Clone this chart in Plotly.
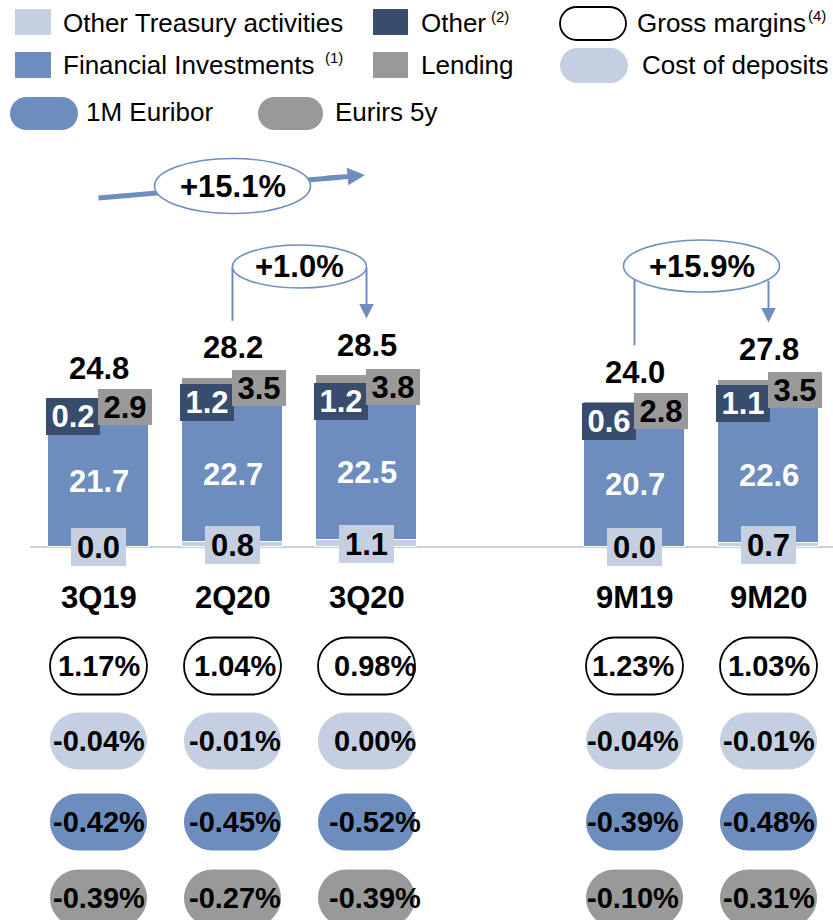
import numpy as np
import plotly.graph_objects as go

# ---------------- data ----------------
categories = ["3Q19", "2Q20", "3Q20", "9M19", "9M20"]
other_treasury = [0.0, 0.8, 1.1, 0.0, 0.7]
financial_investments = [21.7, 22.7, 22.5, 20.7, 22.6]
other = [0.2, 1.2, 1.2, 0.6, 1.1]
lending = [2.9, 3.5, 3.8, 2.8, 3.5]
totals = [24.8, 28.2, 28.5, 24.0, 27.8]

gross_margins = [1.17, 1.04, 0.98, 1.23, 1.03]
cost_of_deposits = [-0.04, -0.01, 0.00, -0.04, -0.01]
euribor_1m = [-0.42, -0.45, -0.52, -0.39, -0.48]
eurirs_5y = [-0.39, -0.27, -0.39, -0.10, -0.31]

growth_values = [15.1, 1.0, 15.9]

# ---------------- layout helpers ----------------
W, H = 833, 920
BASE_PX, PPU = 547.0, 6.0          # baseline pixel row, pixels per unit
X0_PX, STEP_PX = 98.5, 134.0       # first bar centre, bar spacing
slots = [0, 1, 2, 4, 5]            # gap between quarterly and 9M groups
BAR_W = 0.754
PILL_TEXT_SHIFT = [0, 2, 8, -2, 0]


def yv(py):
    return (BASE_PX - py) / PPU


def xv(px):
    return (px - X0_PX) / STEP_PX


def xpx(x):
    return X0_PX + x * STEP_PX


C_LIGHT = "#C5CFE2"
C_BLUE = "#6D8DBE"
C_NAVY = "#384D6D"
C_GRAY = "#999999"
C_ARROW = "#6D8EBF"
FONT = "Liberation Sans, Arial, sans-serif"

fig = go.Figure()
series = [
    ("Other Treasury activities", other_treasury, C_LIGHT),
    ("Financial Investments", financial_investments, C_BLUE),
    ("Other", other, C_NAVY),
    ("Lending", lending, C_GRAY),
]
for name, vals, col in series:
    fig.add_trace(go.Bar(
        x=slots, y=vals, name=name, width=BAR_W,
        marker=dict(color=col, line=dict(color="white", width=1)),
        hoverinfo="skip", showlegend=False))

ot = np.array(other_treasury)
fi = np.array(financial_investments)
oth = np.array(other)
le = np.array(lending)
c1 = ot
c2 = c1 + fi
c3 = c2 + oth
top = c3 + le

ann = []
shapes = []


def label(x, y, text, color, bg=None, w=None, h=None, xshift=0, yshift=0,
          size=31, bold=True, xanchor="center", yanchor="middle"):
    d = dict(x=x, y=y, xref="x", yref="y",
             text=f"<b>{text}</b>" if bold else text, showarrow=False,
             font=dict(family=FONT, size=size, color=color),
             xanchor=xanchor, yanchor=yanchor, xshift=xshift, yshift=yshift,
             borderpad=0, borderwidth=0)
    if bg:
        d["bgcolor"] = bg
    if w:
        d["width"] = w
    if h:
        d["height"] = h
    ann.append(d)


# baseline
shapes.append(dict(type="line", xref="x", yref="y", x0=xv(30), x1=xv(W), y0=0, y1=0,
                   line=dict(color=C_LIGHT, width=2), layer="below"))

# bar value labels
for i, s in enumerate(slots):
    label(s, c1[i] / 2, f"{other_treasury[i]:.1f}", "black", bg=C_LIGHT, w=55, h=38)
    label(s, c1[i] + fi[i] / 2, f"{financial_investments[i]:.1f}", "white")
    label(s, c2[i] + oth[i] / 2, f"{other[i]:.1f}", "white", bg=C_NAVY, w=54, h=37, xshift=-26)
    label(s, c3[i] + le[i] / 2, f"{lending[i]:.1f}", "black", bg=C_GRAY, w=54, h=36, xshift=26)
    label(s, top[i], f"{totals[i]:.1f}", "black", yshift=30)
    label(s, yv(597), categories[i], "black")


# pills
def pill_path(w, h):
    r = h / 2.0
    a = w / 2.0 - r
    k = 0.5523 * r
    hw = w / 2.0
    return (f"M{-a},{-r} L{a},{-r} C{a + k},{-r} {hw},{-k} {hw},0 "
            f"C{hw},{k} {a + k},{r} {a},{r} L{-a},{r} "
            f"C{-a - k},{r} {-hw},{k} {-hw},0 C{-hw},{-k} {-a - k},{-r} {-a},{-r} Z")


def pill(x, y, w, h, fill, line_color=None, line_w=0):
    shapes.append(dict(type="path", xref="x", yref="y", xsizemode="pixel", ysizemode="pixel",
                       xanchor=x, yanchor=y, path=pill_path(w, h), fillcolor=fill,
                       line=dict(color=line_color or fill, width=line_w), layer="above"))


rows = [
    (gross_margins, "white", "black", 1.8),
    (cost_of_deposits, C_LIGHT, None, 0),
    (euribor_1m, C_BLUE, None, 0),
    (eurirs_5y, C_GRAY, None, 0),
]
ROW_PX = [666, 741, 822, 898]
for (vals, fill, lc, lw), rpx in zip(rows, ROW_PX):
    for i, s in enumerate(slots):
        pill(s, yv(rpx), 97, 57, fill, lc, lw)
        label(s, yv(rpx), f"{vals[i]:.2f}%", "black", size=29, xshift=PILL_TEXT_SHIFT[i])


# legend
def rect(px0, py0, px1, py1, fill):
    shapes.append(dict(type="rect", xref="x", yref="y", x0=xv(px0), x1=xv(px1),
                       y0=yv(py1), y1=yv(py0), fillcolor=fill, line=dict(width=0), layer="above"))


rect(15, 9, 51, 35, C_LIGHT)
rect(373, 9, 408, 35, C_NAVY)
rect(15, 52, 51, 78, C_BLUE)
rect(373, 52, 408, 78, C_GRAY)
pill(xv(593), yv(23.5), 66, 33, "white", "black", 1.8)
pill(xv(594), yv(65.5), 68, 35, C_LIGHT)
pill(xv(44), yv(113.5), 68, 33, C_BLUE)
pill(xv(290.5), yv(113.5), 65, 33, C_GRAY)

legend_texts = [
    ("Other Treasury activities", 63, 23),
    ("Other", 421, 23),
    ("Gross margins", 637, 23),
    ("Financial Investments", 63, 65),
    ("Lending", 421, 65),
    ("Cost of deposits", 642, 65),
    ("1M Euribor", 86, 112),
    ("Eurirs 5y", 335, 112),
]
for t, px, py in legend_texts:
    label(xv(px), yv(py), t, "black", size=26, bold=False, xanchor="left")
for t, px, py in [("(1)", 325, 57), ("(2)", 491, 16), ("(4)", 808, 15)]:
    label(xv(px), yv(py), t, "black", size=15, bold=False, xanchor="left")


# growth annotations
def ellipse(cx, cpy, rx, ry, text):
    shapes.append(dict(type="circle", xref="x", yref="y", xsizemode="pixel", ysizemode="pixel",
                       xanchor=cx, yanchor=yv(cpy), x0=-rx, x1=rx, y0=-ry, y1=ry,
                       fillcolor="white", line=dict(color=C_ARROW, width=1.6), layer="above"))
    label(cx, yv(cpy), text, "black")


def arrow(x_tail, y_tail, x_tip, y_tip, width, size):
    ann.append(dict(x=x_tip, y=y_tip, ax=x_tail, ay=y_tail, xref="x", yref="y",
                    axref="x", ayref="y", text="", showarrow=True, arrowhead=2,
                    arrowwidth=width, arrowsize=size, arrowcolor=C_ARROW, standoff=0))


def vline(x, y0, y1):
    shapes.append(dict(type="line", xref="x", yref="y", x0=x, x1=x, y0=y0, y1=y1,
                       line=dict(color=C_ARROW, width=2), layer="above"))


GAP = 57 / PPU

# +15.1% : horizontal arrow 3Q19 -> 3Q20
sx, ex = slots[0], slots[2]
sy_px, ey_px = 198, 175
tip_px = xpx(ex) - 1.5


def along(px):
    return sy_px + (ey_px - sy_px) * (px - xpx(sx)) / (tip_px - xpx(sx))


shapes.append(dict(type="line", xref="x", yref="y", x0=sx, y0=yv(sy_px),
                   x1=xv(340), y1=yv(along(340)),
                   line=dict(color=C_ARROW, width=5), layer="above"))
arrow(xv(325), yv(along(325)), xv(tip_px), yv(ey_px), 5, 0.7)
ellipse(slots[1], 186, 78, 27.5, f"+{growth_values[0]:.1f}%")

# bracket arrows
for (a, b), gv, cpy, rx, ry in [((1, 2), growth_values[1], 266.5, 67, 21.5),
                                 ((3, 4), growth_values[2], 266, 78, 26)]:
    cx = (slots[a] + slots[b]) / 2
    for idx, is_arrow in [(a, False), (b, True)]:
        dx = abs(slots[idx] - cx) * STEP_PX
        dy = ry * np.sqrt(max(0.0, 1 - (dx / rx) ** 2))
        y_top = yv(cpy + dy)
        y_bot = top[idx] + GAP
        if is_arrow:
            arrow(slots[idx], y_top, slots[idx], y_bot, 2, 1.45)
        else:
            vline(slots[idx], y_top, y_bot)
    ellipse(cx, cpy, rx, ry, f"+{gv:.1f}%")

fig.update_layout(
    width=W, height=H, margin=dict(l=0, r=0, t=0, b=0),
    barmode="stack", bargap=0, showlegend=False,
    plot_bgcolor="white", paper_bgcolor="white",
    xaxis=dict(range=[xv(0), xv(W)], visible=False, fixedrange=True),
    yaxis=dict(range=[yv(H), yv(0)], visible=False, fixedrange=True),
    shapes=shapes, annotations=ann,
    font=dict(family=FONT),
)

fig.write_html(
    "out.html",
    config={"displayModeBar": False},
    post_script="document.body.style.margin='0';document.body.style.overflow='hidden';",
)
